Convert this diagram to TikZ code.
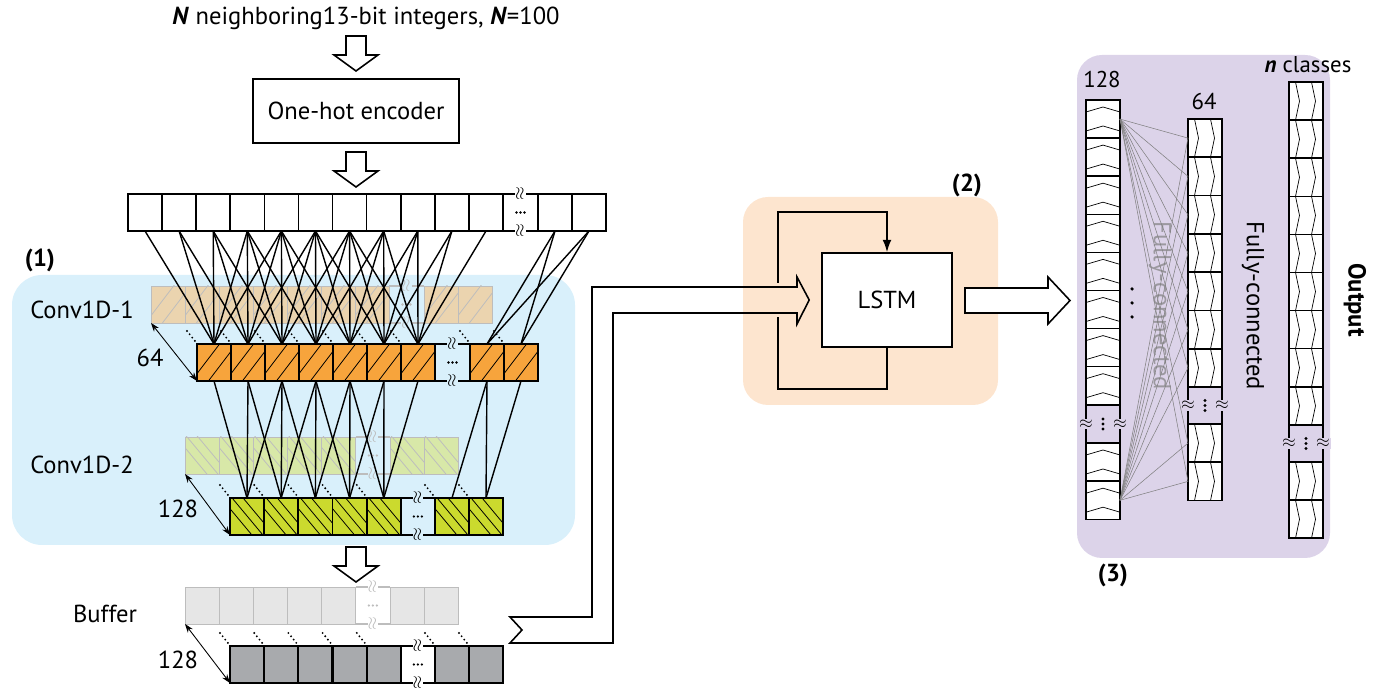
\documentclass[tikz,border=0pt]{standalone}
\usepackage{fontspec}
\setmainfont{PT Sans}
\usetikzlibrary{arrows.meta,calc}

\definecolor{bluebg}{HTML}{D9F0FB}
\definecolor{peachbg}{HTML}{FDE5CF}
\definecolor{lilacbg}{HTML}{DCD3E9}
\definecolor{orangecell}{HTML}{F7A43C}
\definecolor{orangefade}{HTML}{EBD4AF}
\definecolor{greencell}{HTML}{CBDA2E}
\definecolor{greenfade}{HTML}{D8E8A8}
\definecolor{greycell}{HTML}{A8AAAD}
\definecolor{greyfade}{HTML}{E6E6E6}
\definecolor{fadeline}{HTML}{BDBDBD}

% a break in a row of cells
\newcommand{\rowbrk}[4]{%
  \draw[line width=0.8pt, #4] (#1.north east) -- (#2.north west) (#1.south east) -- (#2.south west);
  \node[brkmark, fill=#3, text=#4, rotate=90] at ($(#1.north east)!0.5!(#2.north west)$) {$\approx$};
  \node[brkmark, fill=#3, text=#4, rotate=90] at ($(#1.south east)!0.5!(#2.south west)$) {$\approx$};
  \coordinate (bm) at ($(#1.east)!0.5!(#2.west)$);
  \foreach \d in {-4,0,4} \fill[#4] ([xshift=\d*0.02cm]bm) circle (0.75pt);
}
% a break in a column of cells
\newcommand{\colbrk}[2]{%
  \draw[line width=0.8pt] (#1.south west) -- (#2.north west) (#1.south east) -- (#2.north east);
  \node[brkmark, fill=lilacbg] at ($(#1.south west)!0.5!(#2.north west)$) {$\approx$};
  \node[brkmark, fill=lilacbg] at ($(#1.south east)!0.5!(#2.north east)$) {$\approx$};
  \coordinate (bm) at ($(#1.south)!0.5!(#2.north)$);
  \foreach \d in {-5,0,5} \fill ([yshift=\d*0.02cm]bm) circle (0.9pt);
}
% hollow arrow pointing down
\newcommand{\hollowdown}[2]{%
  \draw[line width=0.9pt, fill=white] ({#1-10},#2) -- ({#1+10},#2) -- ({#1+10},{#2+19})
    -- ({#1+22},{#2+19}) -- (#1,{#2+35}) -- ({#1-22},{#2+19}) -- ({#1-10},{#2+19}) -- cycle;
}

\tikzset{
  lbl/.style={font=\fontsize{14}{16}\selectfont, inner sep=0pt},
  brkmark/.style={inner sep=0.6pt, font=\normalsize},
  cell/.style={draw, line width=0.8pt, minimum width=0.68cm, minimum height=0.74cm,
    inner sep=0pt, outer sep=0pt, anchor=north west},
  hne/.style={path picture={\foreach \s in {-0.49,-0.15}
    \draw[#1, line width=0.45pt] ([shift={(\s cm,-0.42cm)}]path picture bounding box.center) -- ++(0.64cm,0.84cm);}},
  hnw/.style={path picture={\foreach \s in {-0.56,-0.34,-0.12}
    \draw[#1, line width=0.45pt] ([shift={(\s cm,0.42cm)}]path picture bounding box.center) -- ++(0.7cm,-0.84cm);}},
  icell/.style={cell, fill=white},
  ocell/.style={cell, fill=orangecell, line width=1pt, hne=black},
  ofade/.style={cell, fill=orangefade, draw=fadeline, line width=0.5pt, hne=fadeline},
  gcell/.style={cell, fill=greencell, line width=1pt, hnw=black},
  gfade/.style={cell, fill=greenfade, draw=fadeline, line width=0.5pt, hnw=fadeline},
  bcell/.style={cell, fill=greycell, line width=1.1pt},
  bfade/.style={cell, fill=greyfade, draw=fadeline, line width=0.5pt},
  vcell/.style={draw, line width=0.9pt, fill=white, minimum width=0.68cm, minimum height=0.764cm,
    inner sep=0pt, outer sep=0pt, anchor=north west},
  chev/.style={vcell, path picture={\foreach \t in {0.14,0.52}
    \draw[line width=0.4pt] ([yshift=-\t cm-0.1cm]path picture bounding box.north west)
      -- ([yshift=-\t cm]path picture bounding box.north) -- ([yshift=-\t cm-0.1cm]path picture bounding box.north east);}},
  zig/.style={vcell, path picture={\foreach \t in {0.13,0.45}
    \draw[line width=0.4pt] ([xshift=\t cm]path picture bounding box.north west)
      -- ([xshift=\t cm+0.08cm]path picture bounding box.west) -- ([xshift=\t cm]path picture bounding box.south west);}},
  conn/.style={line width=0.8pt},
  fan/.style={line width=0.3pt, gray},
  dotmark/.style={line width=1.2pt, dash pattern=on 0pt off 2.4pt, line cap=round},
}

\begin{document}
\begin{tikzpicture}[x=0.02cm, y=-0.02cm, >={Stealth[length=5pt,width=3.5pt]}]
  \useasboundingbox (0,0) rectangle (1373,688);
  % panels
  \fill[bluebg, rounded corners=0.6cm] (12,275) rectangle (575,545);
  \fill[peachbg, rounded corners=0.5cm] (743,197) rectangle (998,405);
  \fill[lilacbg, rounded corners=0.5cm] (1077,55) rectangle (1330,558);

  % input and encoder
  \node[font=\fontsize{14}{16}\selectfont, inner sep=0pt] (title) at (366,18)
    {\textbf{\textit{N}} neighboring13-bit integers, \textbf{\textit{N}}=100};
  \hollowdown{356}{36}
  \node[lbl, draw, line width=0.8pt, minimum width=4.12cm, minimum height=1.28cm] (enc) at (356,111) {One-hot encoder};
  \hollowdown{356}{152}
  \foreach \i in {1,...,11}
    \node[icell] (i\i) at ({128+34.1*(\i-1)},194) {};
  \node[icell] (i12) at (538,194) {};
  \node[icell] (i13) at (572,194) {};
  \rowbrk{i11}{i12}{white}{black}

  % conv layers, faded rows behind
  \foreach \i in {1,...,7}
    \node[ofade] (fo\i) at ({151+34*(\i-1)},286) {};
  \node[ofade] (fo8) at (424,286) {};
  \node[ofade] (fo9) at (458,286) {};
  \rowbrk{fo7}{fo8}{bluebg}{fadeline}
  \foreach \i in {1,...,5}
    \node[gfade] (fg\i) at ({185+34.2*(\i-1)},437) {};
  \node[gfade] (fg6) at (390,437) {};
  \node[gfade] (fg7) at (424,437) {};
  \rowbrk{fg5}{fg6}{bluebg}{fadeline}

  \foreach \i in {1,...,7}
    \node[ocell] (o\i) at ({197+34*(\i-1)},344) {};
  \node[ocell] (o8) at (470,344) {};
  \node[ocell] (o9) at (504,344) {};
  \rowbrk{o7}{o8}{bluebg}{black}
  \foreach \i in {1,...,5}
    \node[gcell] (g\i) at ({230+34.2*(\i-1)},498) {};
  \node[gcell] (g6) at (435,498) {};
  \node[gcell] (g7) at (469,498) {};
  \rowbrk{g5}{g6}{bluebg}{black}

  % kernels
  \foreach \j in {1,...,7}
    \foreach \k in {0,...,4} {
      \pgfmathtruncatemacro\m{\j+\k}
      \ifnum\m<12 \draw[conn] (i\m.south) -- (o\j.north); \fi
    }
  \foreach \a/\b in {i12/o8,i12/o9,i13/o8,i13/o9}
    \draw[conn] (\a.south) -- (\b.north);
  \foreach \j in {1,...,5}
    \foreach \k in {0,1,2} {
      \pgfmathtruncatemacro\m{\j+\k}
      \draw[conn] (o\m.south) -- (g\j.north);
    }
  \foreach \a/\b in {o8/g6,o8/g7,o9/g7}
    \draw[conn] (\a.south) -- (\b.north);

  % buffer
  \hollowdown{356}{547}
  \foreach \i in {1,...,5}
    \node[bfade] (fbuf\i) at ({185+34.2*(\i-1)},587) {};
  \node[bfade] (fbuf6) at (390,587) {};
  \node[bfade] (fbuf7) at (424,587) {};
  \rowbrk{fbuf5}{fbuf6}{white}{fadeline}
  \foreach \i in {1,...,5}
    \node[bcell] (buf\i) at ({230+34.2*(\i-1)},646) {};
  \node[bcell] (buf6) at (435,646) {};
  \node[bcell] (buf7) at (469,646) {};
  \rowbrk{buf5}{buf6}{white}{black}

  \foreach \n in {o1,o2,o3,o4,o5,o6,o7,o8,o9,g1,g2,g3,g4,g5,g6,g7,buf1,buf2,buf3,buf4,buf5,buf6,buf7}
    \draw[dotmark] ([shift={(-10,-13)}]\n.north west) -- ++(8,10);
  \draw[<->, line width=0.5pt] (fo1.south west) -- (o1.south west);
  \draw[<->, line width=0.5pt] (fg1.south west) -- (g1.south west);
  \draw[<->, line width=0.5pt] (fbuf1.south west) -- (buf1.south west);

  \node[lbl, font=\fontsize{14}{16}\selectfont\bfseries] (p1) at (40,260) {(1)};
  \node[lbl] (c1) at (82,310) {Conv1D-1};
  \node[lbl] (n64) at (150,358) {64};
  \node[lbl] (c2) at (82,465) {Conv1D-2};
  \node[lbl] (n128a) at (178,509) {128};
  \node[lbl] (buff) at (105,614) {Buffer};
  \node[lbl] (n128b) at (178,660) {128};

  % LSTM
  \node[lbl, font=\fontsize{14}{16}\selectfont\bfseries] (p2) at (967,185) {(2)};
  \node[lbl, draw, fill=white, line width=0.9pt, minimum width=2.6cm, minimum height=1.88cm] (lstm) at (887,300) {LSTM};
  \coordinate (lpA) at (778,283);
  \coordinate (lpB) at (778,317);
  \draw[line width=0.9pt] (lstm.south) -- ++(0,41) -| (lpB);
  \draw[line width=0.9pt, -{Latex[length=7pt,width=5pt]}] (lpA) |- ($(lstm.north)+(0,-40)$) -- (lstm.north);
  \coordinate (inTip) at ($(lstm.west)+(-12,0)$);
  \draw[line width=0.9pt] (510,617) -- (592,617) -- (592,287) -- (797,287) -- (797,277) -- (inTip)
    -- (797,324) -- (797,313) -- (613,313) -- (613,643) -- (510,643) -- (522,630) -- cycle;
  \draw[line width=0.9pt, fill=white] (965,288) -- (1048,288) -- (1048,277) -- (1070,300.5)
    -- (1048,324) -- (1048,313) -- (965,313) -- cycle;

  % dense layers
  \foreach \k in {1,...,8}
    \node[chev] (ca\k) at (1086,{100+38.1*(\k-1)}) {};
  \node[chev] (ca9) at (1086,443) {};
  \node[chev] (ca10) at (1086,481.2) {};
  \colbrk{ca8}{ca9}
  \foreach \k in {1,...,7}
    \node[zig] (cb\k) at (1188,{119+38.3*(\k-1)}) {};
  \node[zig] (cb8) at (1188,424) {};
  \node[zig] (cb9) at (1188,462.3) {};
  \colbrk{cb7}{cb8}
  \foreach \k in {1,...,9}
    \node[zig] (cn\k) at (1289,{82+38.1*(\k-1)}) {};
  \node[zig] (cn10) at (1289,462) {};
  \node[zig] (cn11) at (1289,500.1) {};
  \colbrk{cn9}{cn10}

  \foreach \k in {1,...,9} {
    \draw[fan] (ca1.east) -- (cb\k.west);
    \draw[fan] (ca10.east) -- (cb\k.west);
  }
  \foreach \d in {289,303,317} \fill (1132,\d) circle (1pt);
  \node[lbl, rotate=-90, text=gray, opacity=0.7] (fc1) at (1160,306) {Fully-connected};
  \node[lbl, rotate=-90] (fc2) at (1253,306) {Fully-connected};
  \node[lbl, rotate=-90, font=\fontsize{14}{16}\selectfont\bfseries] (outp) at (1355,300) {Output};
  \node[lbl, font=\fontsize{13}{15}\selectfont] (n128c) at (1102,80) {128};
  \node[lbl, font=\fontsize{13}{15}\selectfont] (n64b) at (1204,102) {64};
  \node[lbl, font=\fontsize{13}{15}\selectfont] (ncls) at (1308,65) {\textbf{\textit{n}} classes};
  \node[lbl, font=\fontsize{14}{16}\selectfont\bfseries] (p3) at (1113,575) {(3)};
\end{tikzpicture}
\end{document}
